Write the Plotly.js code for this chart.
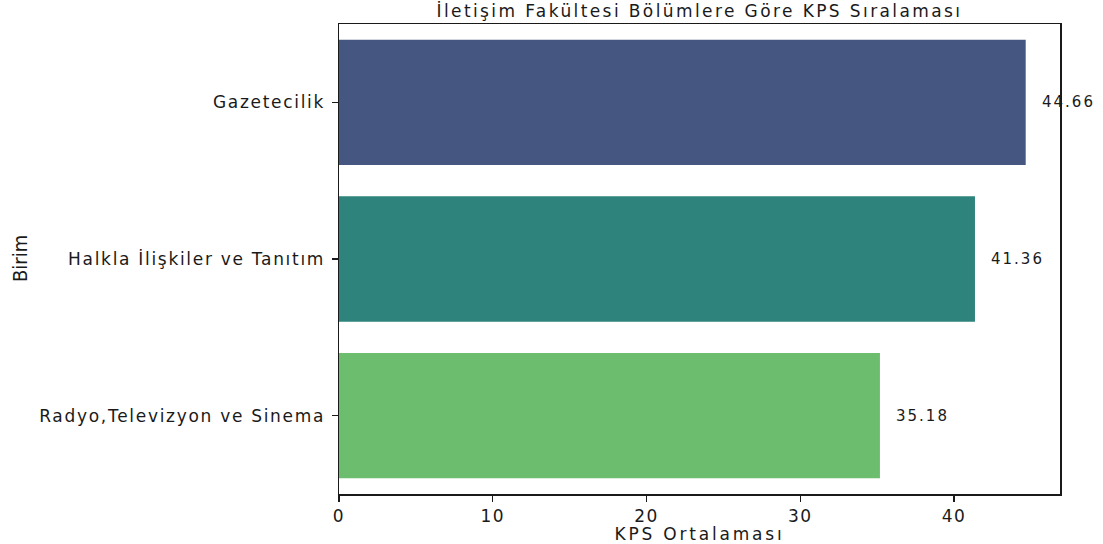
<!DOCTYPE html>
<html>
<head>
<meta charset="utf-8">
<script src="https://cdn.plot.ly/plotly-3.0.1.min.js"></script>
<style>
html,body{margin:0;padding:0;background:#fff;}
#chart{width:1103px;height:544px;}
#chart .ytick text{letter-spacing:1.7px;}
#chart .xtick text{letter-spacing:1.5px;}
#chart .gtitle{letter-spacing:2.4px;}
#chart .xtitle{letter-spacing:2.8px;}
#chart .annotation .annotation-text{letter-spacing:2px;}
#chart .annotation[data-index="3"] .annotation-text{letter-spacing:0px;}
</style>
</head>
<body>
<div id="chart"></div>
<script>
const categories = ["Gazetecilik", "Halkla İlişkiler ve Tanıtım", "Radyo,Televizyon ve Sinema"];
const values = [44.66, 41.36, 35.18];
const barColors = ["#455781", "#2e837c", "#6dbd6e"];
const xTicks = [0, 10, 20, 30, 40];

const font = "DejaVu Sans, sans-serif";
const ink = "#1a1a1a";

const trace = {
  type: "bar",
  orientation: "h",
  y: categories,
  x: values,
  marker: {color: barColors, line: {width: 0}},
  width: 0.8,
  hoverinfo: "none"
};

const annotations = values.map((v, i) => ({
  x: v,
  y: categories[i],
  xref: "x",
  yref: "y",
  xshift: 19,
  text: v.toFixed(2),
  showarrow: false,
  xanchor: "left",
  yanchor: "middle",
  font: {family: font, size: 15, color: ink}
}));

annotations.push({
  x: (20 - 339) / 721,
  y: 0.5,
  xref: "paper",
  yref: "paper",
  text: "Birim",
  textangle: -90,
  showarrow: false,
  xanchor: "center",
  yanchor: "middle",
  font: {family: "DejaVu Sans Condensed, Liberation Sans Narrow, sans-serif", size: 20, color: ink}
});

const layout = {
  width: 1103,
  height: 544,
  paper_bgcolor: "#fff",
  plot_bgcolor: "#fff",
  margin: {l: 339, r: 43, t: 24, b: 50},
  showlegend: false,
  bargap: 0.2,
  title: {
    text: "İletişim Fakültesi Bölümlere Göre KPS Sıralaması",
    font: {family: font, size: 17, color: ink},
    x: 0.5 * (339 + 1060) / 1103,
    xanchor: "center",
    y: 0.99,
    yanchor: "top"
  },
  xaxis: {
    range: [0, 46.89],
    tickvals: xTicks,
    ticktext: xTicks.map(String),
    ticks: "outside",
    ticklen: 6,
    tickwidth: 1.2,
    tickcolor: ink,
    showline: true,
    linecolor: ink,
    linewidth: 1.5,
    mirror: true,
    showgrid: false,
    zeroline: false,
    tickfont: {family: font, size: 17, color: ink},
    title: {text: "KPS Ortalaması", font: {family: font, size: 17, color: ink}, standoff: 0}
  },
  yaxis: {
    type: "category",
    autorange: false,
    range: [2.5, -0.5],
    ticks: "outside",
    ticklen: 6,
    tickwidth: 1.2,
    tickcolor: ink,
    ticklabelstandoff: 3,
    showline: true,
    linecolor: ink,
    linewidth: 1.5,
    mirror: true,
    showgrid: false,
    zeroline: false,
    tickfont: {family: font, size: 17, color: ink}
  },
  annotations: annotations
};

Plotly.newPlot("chart", [trace], layout, {displayModeBar: false, staticPlot: true});
</script>
</body>
</html>
